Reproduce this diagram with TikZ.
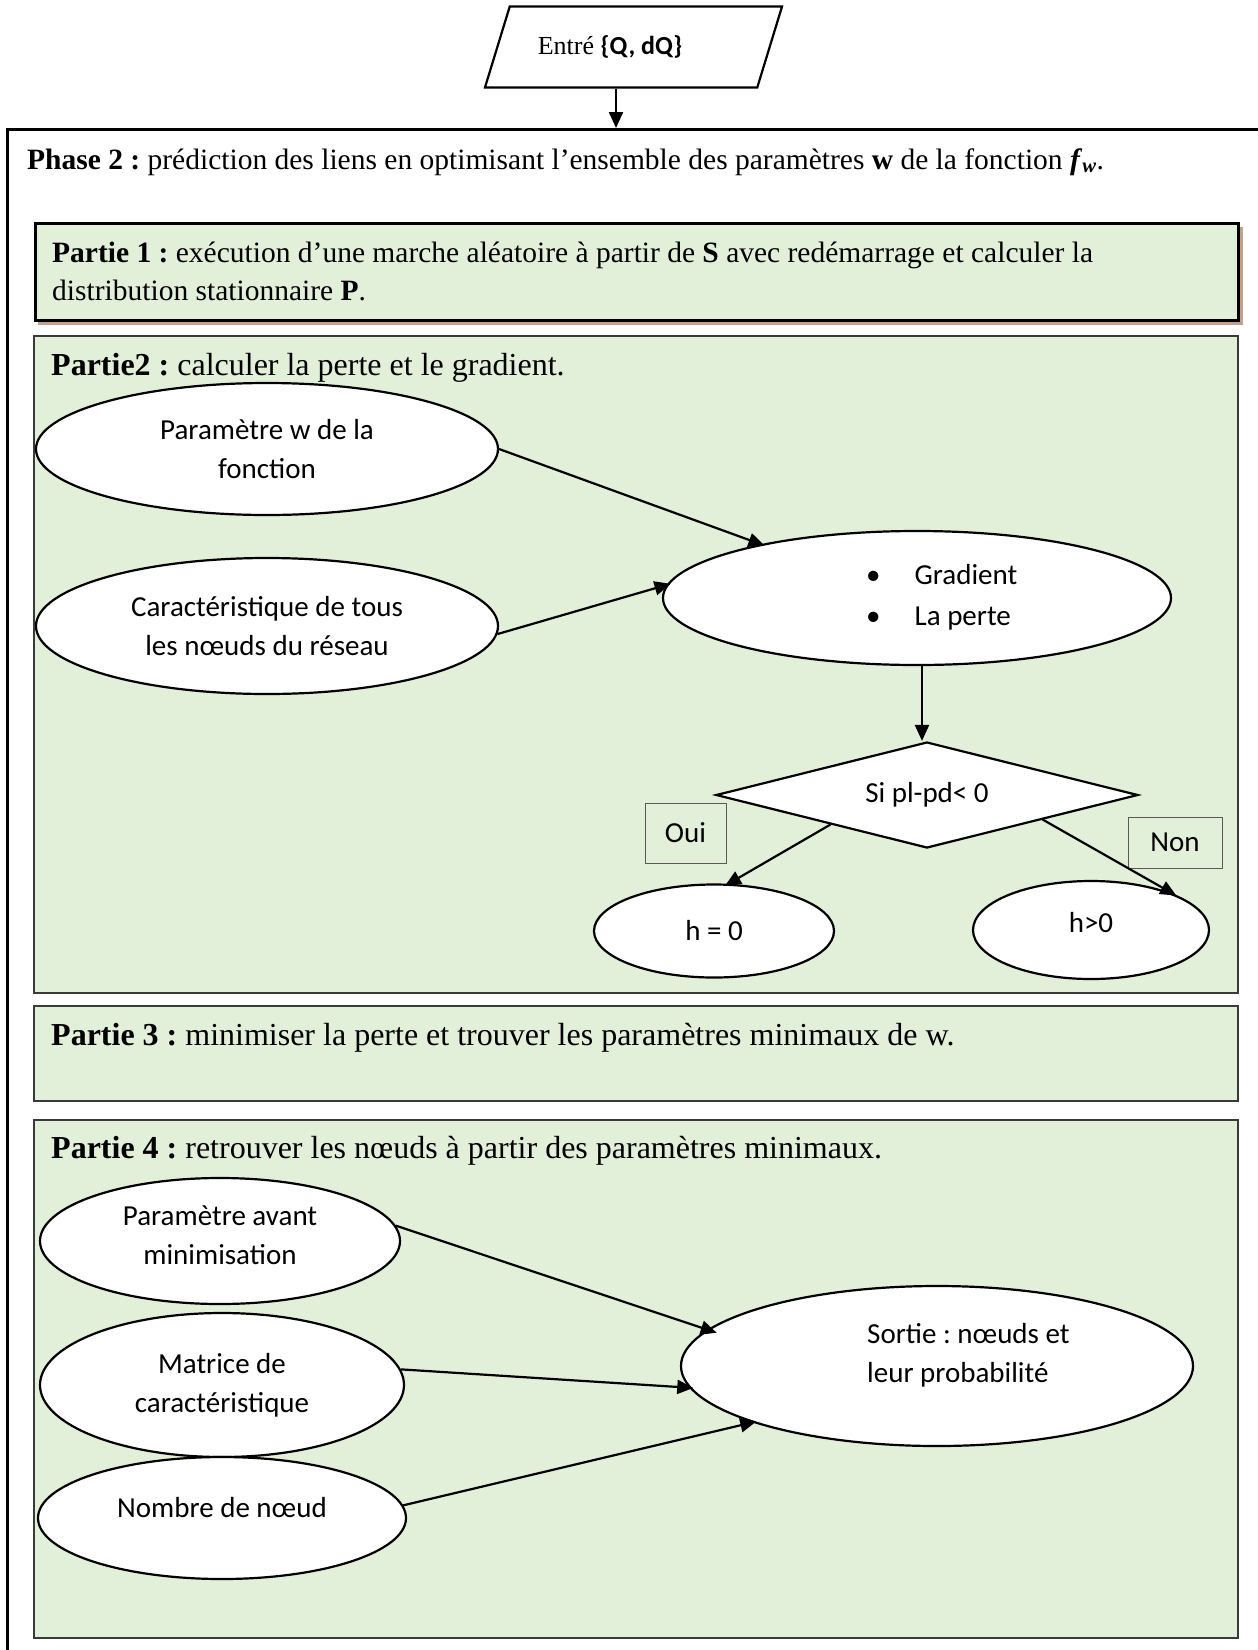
\documentclass[tikz,border=0pt]{standalone}
\usepackage{fontspec}
\setmainfont{Liberation Serif}
\newfontfamily\calibri{Carlito}
\usetikzlibrary{shapes.geometric, arrows.meta}
\definecolor{panelgreen}{HTML}{E2EFD9}
\definecolor{shadowbrown}{RGB}{196,160,140}
\definecolor{panelline}{HTML}{3A3A3A}
\frenchspacing

\begin{document}
\begin{tikzpicture}[x=1pt, y=-1pt,
  serif/.style={font=\fontsize{29.5}{38}\selectfont, inner sep=0pt},
  title/.style={font=\fontsize{32}{38}\selectfont, inner sep=0pt, anchor=west},
  sans/.style={font=\calibri\fontsize{29}{39}\selectfont, inner sep=0pt, align=center},
  bubble/.style={ellipse, draw, line width=2.2pt, fill=white, sans},
  panel/.style={draw=panelline, line width=1.5pt, fill=panelgreen, inner sep=0pt, anchor=north west},
  tag/.style={draw=black!65, line width=1pt, fill=panelgreen, sans},
  arr/.style={line width=2.2pt, -{Triangle[length=16pt,width=14pt]}, shorten >=-4pt},
]
\useasboundingbox (0,0) rectangle (1258,1650);
\clip (0,0) rectangle (1258,1650);
\fill[white] (0,0) rectangle (1258,1650);

% input block
\node[trapezium, trapezium left angle=73, trapezium right angle=107,
      trapezium stretches body=true, draw, line width=2.2pt, fill=white,
      minimum width=297pt, inner xsep=0pt, inner ysep=29pt,
      font=\fontsize{26}{30}\selectfont] (entree) at (633.5,47)
  {Entré {\calibri\bfseries\{Q, dQ\}}\hspace*{47pt}};

% phase frame (runs past the right and bottom edges)
\node[draw, line width=3pt, minimum width=1253pt, minimum height=1572pt,
      inner sep=0pt, anchor=north west] (outer) at (6,128) {};
\draw[arr, shorten >=0pt] ([xshift=-17.5pt]entree.south) -- ([xshift=-17.5pt]entree.south |- outer.north);

\node[serif, anchor=west] (phase) at (27,162)
  {\textbf{Phase 2 :} prédiction des liens en optimisant l’ensemble des paramètres \textbf{w} de la fonction \textbf{\textit{f}}\textsubscript{\textbf{\textit{w}}}.};

% part 1
\fill[shadowbrown] (38,227) rectangle (1243,325);
\node[panel, draw=black, line width=3pt, minimum width=1203pt, minimum height=97pt] (p1) at (34,222) {};
\node[serif, anchor=west, align=left] (p1t) at (52,271)
  {\textbf{Partie 1 :} exécution d’une marche aléatoire à partir de \textbf{S} avec redémarrage et calculer la\\distribution stationnaire \textbf{P}.};

% part 2
\node[panel, minimum width=1204pt, minimum height=657pt] (p2) at (33,335) {};
\node[title] (p2t) at (51,368) {\textbf{Partie2 :} calculer la perte et le gradient.};

\node[bubble, minimum width=462pt, minimum height=132pt] (A) at (267,449) {Paramètre w de la\\fonction};
\node[bubble, minimum width=462pt, minimum height=136pt] (B) at (267,626) {Caractéristique de tous\\les nœuds du réseau};
\node[bubble, minimum width=508pt, minimum height=134pt] (C) at (917,598) {};
\node[sans, anchor=west, align=left] (CT) at (866,597)
  {\textbullet\hspace{34pt}Gradient\\[2pt]\textbullet\hspace{34pt}La perte};
\node[diamond, aspect=4, draw, line width=2.2pt, fill=white, minimum width=422pt, minimum height=106pt,
      inner sep=0pt, sans] (D) at (927,795) {Si pl-pd< 0};
\node[tag, minimum width=81pt, minimum height=60pt] (oui) at (685.5,833) {Oui};
\node[tag, minimum width=94pt, minimum height=51pt] (non) at (1175,842.5) {Non};
\node[bubble, minimum width=240pt, minimum height=93pt] (h0) at (714,931) {h = 0};
\node[bubble, minimum width=236pt, minimum height=98pt] (hp) at (1091,930) {};
\node[sans] (hpT) at (1091,923) {h>0};

\draw[arr] (A.0) -- (C.161.5);
\draw[arr] (B.358) -- (C.177.7);
\draw[arr, shorten >=0pt] (C.south -| 922,0) -- (D.north -| 922,0);
\draw[arr] (D.197.4) -- (h0.73.4);
\draw[arr] (D.348.6) -- (hp.24.5);

% part 3
\node[panel, minimum width=1204pt, minimum height=95pt] (p3) at (33,1005) {};
\node[title] (p3t) at (51,1038) {\textbf{Partie 3 :} minimiser la perte et trouver les paramètres minimaux de w.};

% part 4
\node[panel, minimum width=1204pt, minimum height=518pt] (p4) at (33,1119) {};
\node[title] (p4t) at (51,1151) {\textbf{Partie 4 :} retrouver les nœuds à partir des paramètres minimaux.};

\node[bubble, minimum width=360pt, minimum height=126pt] (P) at (220,1241) {};
\node[sans] (PT) at (220,1235) {Paramètre avant\\minimisation};
\node[bubble, minimum width=364pt, minimum height=144pt] (M) at (222,1385) {Matrice de\\caractéristique};
\node[bubble, minimum width=368pt, minimum height=122pt] (N) at (222,1518) {};
\node[sans] (NT) at (222,1508) {Nombre de nœud};
\node[bubble, minimum width=512pt, minimum height=160pt] (S) at (937,1366) {};
\node[sans, anchor=west, align=left] (ST) at (867,1355) {Sortie : nœuds et\\leur probabilité};

\draw[arr, shorten >=-10pt] (P.5.4) -- (S.171);
\draw[arr] (M.5.1) -- (S.185.1);
\draw[arr] (N.4.7) -- (S.197.7);
\end{tikzpicture}
\end{document}
